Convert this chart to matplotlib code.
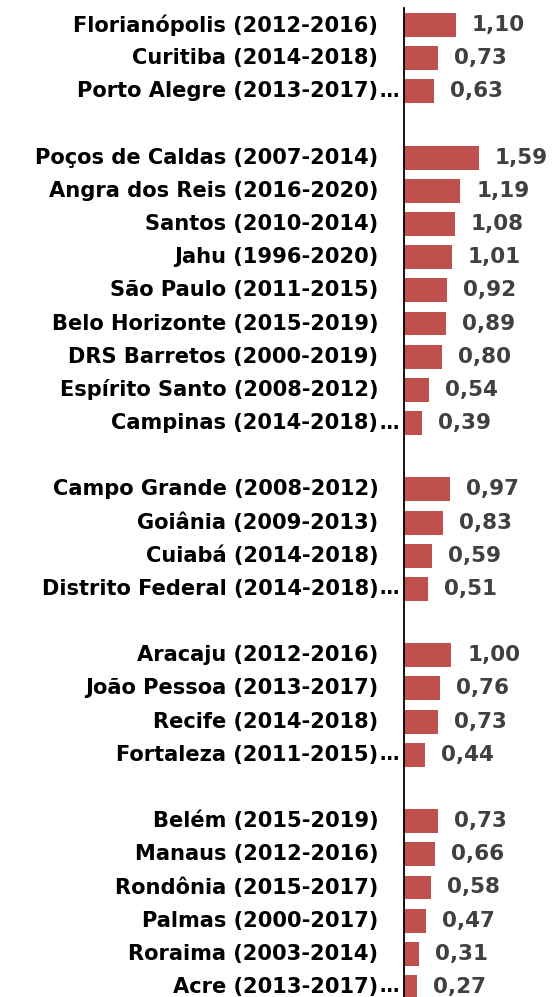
import matplotlib
matplotlib.use("Agg")
import matplotlib.pyplot as plt

# cidades agrupadas por região (None = linha em branco entre grupos)
labels = [
    "Florianópolis (2012-2016)", "Curitiba (2014-2018)", "Porto Alegre (2013-2017)…",
    None,
    "Poços de Caldas (2007-2014)", "Angra dos Reis (2016-2020)", "Santos (2010-2014)",
    "Jahu (1996-2020)", "São Paulo (2011-2015)", "Belo Horizonte (2015-2019)",
    "DRS Barretos (2000-2019)", "Espírito Santo (2008-2012)", "Campinas (2014-2018)…",
    None,
    "Campo Grande (2008-2012)", "Goiânia (2009-2013)", "Cuiabá (2014-2018)",
    "Distrito Federal (2014-2018)…",
    None,
    "Aracaju (2012-2016)", "João Pessoa (2013-2017)", "Recife (2014-2018)",
    "Fortaleza (2011-2015)…",
    None,
    "Belém (2015-2019)", "Manaus (2012-2016)", "Rondônia (2015-2017)",
    "Palmas (2000-2017)", "Roraima (2003-2014)", "Acre (2013-2017)…",
]
values = [
    1.10, 0.73, 0.63,
    None,
    1.59, 1.19, 1.08, 1.01, 0.92, 0.89, 0.80, 0.54, 0.39,
    None,
    0.97, 0.83, 0.59, 0.51,
    None,
    1.00, 0.76, 0.73, 0.44,
    None,
    0.73, 0.66, 0.58, 0.47, 0.31, 0.27,
]

plt.rcParams["font.family"] = ["DejaVu Sans"]

fig = plt.figure(figsize=(5.54, 9.97), dpi=100)
# eixo começa em x=404px; cada linha ocupa ~33px
ax = fig.add_axes([404 / 554, -0.0066, 150 / 554, 0.9982])

n = len(labels)
for i, (lab, val) in enumerate(zip(labels, values)):
    if lab is None:
        continue
    ax.barh(i, val, height=0.72, color="#C0504D", edgecolor="none")
    ax.annotate(f"{val:.2f}".replace(".", ","), xy=(val, i), xytext=(11.5, 0),
                textcoords="offset points", ha="left", va="center",
                fontsize=15.5, fontweight="bold", color="#404040")
    base = lab.rstrip("…")
    ax.annotate(base, xy=(0, i), xycoords=("axes fraction", "data"),
                xytext=(-18.5, 0), textcoords="offset points",
                ha="right", va="center", fontsize=15.1, fontweight="bold",
                color="black", annotation_clip=False)
    if lab.endswith("…"):
        ax.annotate("…", xy=(0, i), xycoords=("axes fraction", "data"),
                    xytext=(-17.6, 0), textcoords="offset points",
                    ha="left", va="center", fontsize=14, fontweight="bold",
                    color="black", annotation_clip=False)

ax.set_xlim(0, 150 / 47.2)
ax.set_ylim(n - 0.5, -0.5)
for s in ["top", "right", "bottom"]:
    ax.spines[s].set_visible(False)
ax.spines["left"].set_linewidth(1.3)
ax.spines["left"].set_color("black")
ax.set_xticks([])
ax.set_yticks([])

fig.savefig("out.png", dpi=100)
